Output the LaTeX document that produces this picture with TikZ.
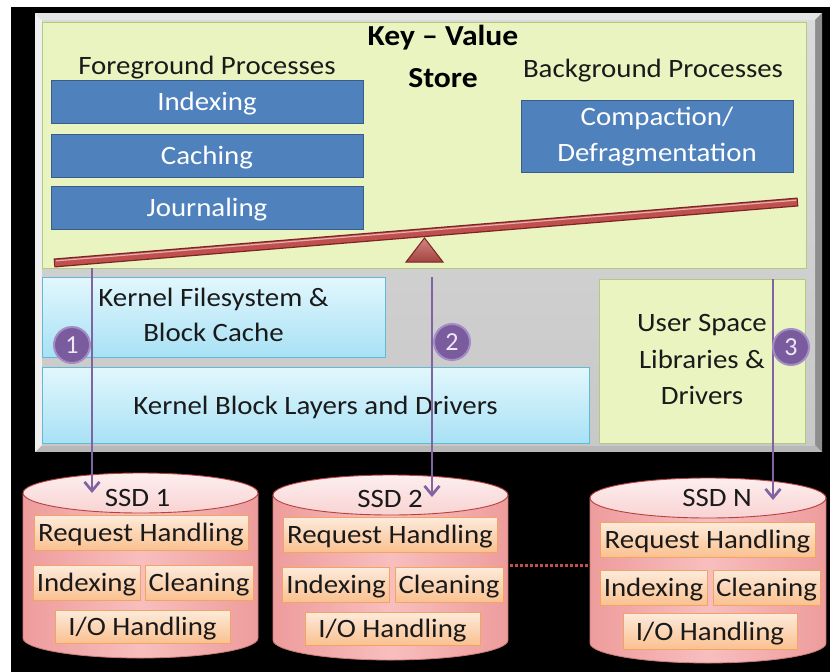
\documentclass[tikz,border=0pt]{standalone}
\usepackage{fontspec}
\setmainfont{Carlito}
\usepackage{graphicx}
\usetikzlibrary{arrows.meta}

\definecolor{textdark}{HTML}{1A1A1A}
\definecolor{kvfill}{HTML}{E9F4C0}
\definecolor{kvedge}{HTML}{B3C883}
\definecolor{bluefill}{HTML}{4F81BD}
\definecolor{blueedge}{HTML}{385D8A}
\definecolor{cyantop}{HTML}{E2F7FD}
\definecolor{cyanbot}{HTML}{A8E1F5}
\definecolor{cyanedge}{HTML}{62B9D4}
\definecolor{leverred}{HTML}{C0504D}
\definecolor{leverdark}{HTML}{7A2423}
\definecolor{purp}{HTML}{8064A2}
\definecolor{purpdot}{HTML}{7A5B9E}
\definecolor{purpedge}{HTML}{A48CC4}
\definecolor{numtext}{HTML}{EEE8F4}
\definecolor{pinkside}{HTML}{EE9C9C}
\definecolor{pinkmid}{HTML}{F8BEBE}
\definecolor{pinktoplt}{HTML}{FDEEEE}
\definecolor{pinktopdk}{HTML}{F9D3D3}
\definecolor{pinkedge}{HTML}{B5423F}
\definecolor{orgtop}{HTML}{FDEBDC}
\definecolor{orgbot}{HTML}{FAC190}
\definecolor{orgedge}{HTML}{F2A463}
\definecolor{panelhi}{HTML}{F0F0F0}
\definecolor{paneltop}{HTML}{E4E4E4}
\definecolor{panelfacet}{HTML}{DADADA}
\definecolor{panelfaceb}{HTML}{C8C8C8}
\definecolor{panelright}{HTML}{8E8E8E}
\definecolor{panelbot}{HTML}{B8B8B8}

% horizontally widened text, as set in the slide
\newcommand{\hs}[1]{\scalebox{1.09}[1]{#1}}

% a disk drawn as a cylinder: centre x, top y, bottom y, half width
\newcommand{\ssdcyl}[4]{%
  \shade[cylbody] ({#1-#4},#2) -- ({#1-#4},#3)
     arc[start angle=180,end angle=0,x radius=#4,y radius=20] -- ({#1+#4},#2) -- cycle;
  \draw[cyledge] ({#1-#4},#2) -- ({#1-#4},#3)
     arc[start angle=180,end angle=0,x radius=#4,y radius=20] -- ({#1+#4},#2);
  \draw[cyltop] (#1,#2) ellipse[x radius=#4,y radius=20];
}

\tikzset{
  nosep/.style={inner sep=0pt, outer sep=0pt},
  lbl/.style={nosep, font=\fontsize{26.5}{35}\selectfont, text=textdark},
  oneline/.style={text height=21pt, text depth=2.5pt},
  procbox/.style={lbl, draw=blueedge, fill=bluefill, line width=1pt, text=white},
  layerbox/.style={lbl, draw=cyanedge, top color=cyantop, bottom color=cyanbot, line width=1pt},
  greenbox/.style={lbl, draw=kvedge, fill=kvfill, line width=1pt},
  taskbox/.style={lbl, oneline, draw=orgedge, top color=orgtop, bottom color=orgbot,
                  line width=1pt, minimum height=35pt},
  numdot/.style={circle, nosep, fill=purpdot, draw=purpedge, line width=2pt,
                 minimum size=36pt, text=numtext, font=\fontsize{26}{26}\selectfont},
  flow/.style={draw=purp, line width=2.7pt, -{Straight Barb[length=9pt,width=15pt]}},
  cylbody/.style={left color=pinkside, right color=pinkside, middle color=pinkmid},
  cyledge/.style={draw=pinkedge!70, line width=0.8pt},
  cyltop/.style={top color=pinktoplt, bottom color=pinktopdk, draw=pinkedge, line width=0.9pt},
  dotlink/.style={draw=leverred, line width=3pt, dash pattern=on 3pt off 2pt},
}

\begin{document}
\begin{tikzpicture}[x=1pt, y=-1pt]
\useasboundingbox (0,0) rectangle (830,672);
\fill[white] (0,0) rectangle (830,672);
\fill[black] (11,7) rectangle (830,672);

% bevelled grey host panel
\fill[panelbot] (35,13) rectangle (822,452);
\fill[paneltop] (35,13) -- (822,13) -- (815,20) -- (42,20) -- cycle;
\fill[panelhi] (35,13) -- (42,20) -- (42,445) -- (35,452) -- cycle;
\fill[panelright] (822,13) -- (822,452) -- (815,445) -- (815,20) -- cycle;
\shade[top color=panelfacet, bottom color=panelfaceb] (42,20) rectangle (815,445);

% key-value store
\node[greenbox, minimum width=764pt, minimum height=246pt] (kv) at (424,145) {};
\node[nosep, font=\fontsize{29}{42}\selectfont\bfseries, text=black] (title) at (443,58)
  {\hs{\begin{tabular}{@{}c@{}}Key – Value\\Store\end{tabular}}};
\node[lbl, anchor=base] (fg) at (207,74) {\hs{Foreground Processes}};
\node[lbl, anchor=base] (bg) at (653,77) {\hs{Background Processes}};

\node[procbox, oneline, minimum width=312pt, minimum height=43pt] (idx) at (207,101.5) {\hs{Indexing}};
\node[procbox, oneline, minimum width=312pt, minimum height=43pt] (cach) at (207,155.5) {\hs{Caching}};
\node[procbox, oneline, minimum width=312pt, minimum height=43pt] (jour) at (207,207.5) {\hs{Journaling}};
\node[procbox, minimum width=272pt, minimum height=72pt, font=\fontsize{26.5}{36}\selectfont] (comp) at (657,136)
  {\hs{\begin{tabular}{@{}c@{}}Compaction/\\Defragmentation\end{tabular}}};

% balance beam on its pivot
\coordinate (lvL) at (54,263);
\coordinate (lvR) at (798,202);
\draw[leverdark, line width=9pt] (lvL) -- (lvR);
\draw[leverred, line width=6.5pt, shorten <=1pt, shorten >=1pt] (lvL) -- (lvR);
\draw[white!55!leverred, line width=1.2pt, shorten <=2pt, shorten >=2pt] ([yshift=2pt]lvL) -- ([yshift=2pt]lvR);
\shade[top color=leverred!70!white, bottom color=leverred!85!black, draw=leverdark, line width=1pt]
  (406,262) -- (424.5,238) -- (443,262) -- cycle;

% host software layers
\node[layerbox, minimum width=343pt, minimum height=80pt] (kfs) at (213.5,317)
  {\hs{\begin{tabular}{@{}c@{}}Kernel Filesystem \&\\Block Cache\end{tabular}}};
\node[layerbox, oneline, minimum width=547pt, minimum height=76pt] (kbl) at (315.5,405)
  {\hs{Kernel Block Layers and Drivers}};
\node[greenbox, minimum width=206pt, minimum height=164pt, font=\fontsize{26.5}{36.5}\selectfont] (usl) at (702,361)
  {\hs{\begin{tabular}{@{}c@{}}User Space\\Libraries \&\\Drivers\end{tabular}}};

% drives
\ssdcyl{140.5}{493}{638}{117.5}
\ssdcyl{390.5}{495}{640}{117.5}
\ssdcyl{708}{498}{643}{118}

\node[lbl, oneline] (s1) at (137.5,497) {\hs{SSD 1}};
\node[lbl, oneline] (s2) at (390,498) {\hs{SSD 2}};
\node[lbl, oneline] (sn) at (717,497) {\hs{SSD N}};

\node[taskbox, minimum width=214pt] (r1) at (141,532.5) {\hs{Request Handling}};
\node[taskbox, minimum width=107pt] (i1) at (86.5,582.5) {\hs{Indexing}};
\node[taskbox, minimum width=108pt] (c1) at (199,582.5) {\hs{Cleaning}};
\node[taskbox, minimum width=175pt, minimum height=33pt] (o1) at (142.5,626.5) {\hs{I/O Handling}};

\node[taskbox, minimum width=214pt] (r2) at (390,534.5) {\hs{Request Handling}};
\node[taskbox, minimum width=107pt] (i2) at (336,584.5) {\hs{Indexing}};
\node[taskbox, minimum width=108pt] (c2) at (449,584.5) {\hs{Cleaning}};
\node[taskbox, minimum width=175pt, minimum height=33pt] (o2) at (392.5,628.5) {\hs{I/O Handling}};

\node[taskbox, minimum width=215pt] (rn) at (707.5,539.5) {\hs{Request Handling}};
\node[taskbox, minimum width=107pt] (in) at (653.5,587.5) {\hs{Indexing}};
\node[taskbox, minimum width=107pt] (cn) at (766.5,587.5) {\hs{Cleaning}};
\node[taskbox, minimum width=174pt, minimum height=36pt] (on) at (710,631) {\hs{I/O Handling}};

% more drives in between
\coordinate (gapL) at (510,565);
\coordinate (gapR) at (590,565);
\draw[dotlink] (gapL) -- (gapR);

% I/O paths from the store down to the drives
\coordinate (a1e) at (92,493);
\coordinate (a2e) at (432,497);
\coordinate (a3e) at (773,500);
\draw[flow] (kv.south -| a1e) -- (a1e);
\draw[flow] (kfs.north -| a2e) -- (a2e);
\draw[flow] (usl.north -| a3e) -- (a3e);

\node[numdot] (n1) at (72,345) {1};
\node[numdot] (n2) at (452,342) {2};
\node[numdot] (n3) at (791,347) {3};
\end{tikzpicture}
\end{document}
